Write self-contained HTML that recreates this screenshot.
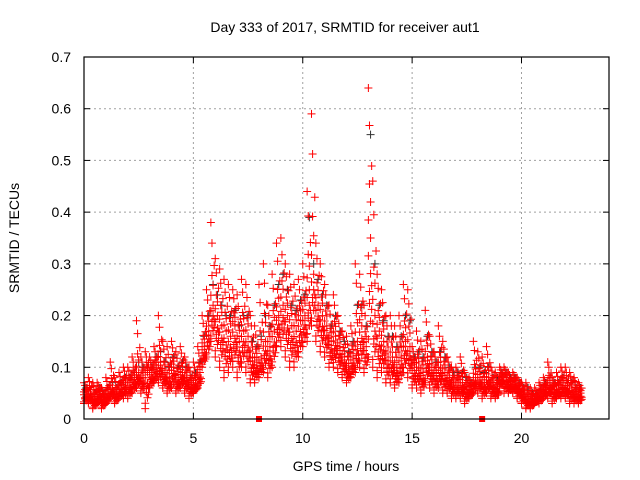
<!DOCTYPE html>
<html><head><meta charset="utf-8">
<style>
body{margin:0;background:#fff;}
svg{display:block;font-family:"Liberation Sans",sans-serif;}
</style></head>
<body>
<svg id="chart" width="640" height="480" viewBox="0 0 640 480" xmlns="http://www.w3.org/2000/svg">
<rect width="640" height="480" fill="#fff"/>
<g id="grid"></g>
<g id="points"></g>
<g id="axes"></g>
<text x="345" y="32" font-size="14" text-anchor="middle">Day 333 of 2017, SRMTID for receiver aut1</text>
<text x="346" y="471" font-size="14" text-anchor="middle">GPS time / hours</text>
<text transform="translate(19,238) rotate(-90)" font-size="14" text-anchor="middle">SRMTID / TECUs</text>
</svg>
<script>
const xTicks=[0,5,10,15,20];
const yTicks=[0,0.1,0.2,0.3,0.4,0.5,0.6,0.7];
const yTickLabels=["0","0.1","0.2","0.3","0.4","0.5","0.6","0.7"];
const stepHours=0.2;
const redHigh=[.07,.08,.07,.07,.06, .08,.11,.08,.09,.1, .1,.12,.19,.12,.13, .12,.14,.2,.15,.14, .15,.13,.14,.12,.1,
.11,.14,.2,.25,.38, .31,.29,.27,.26,.25, .24,.27,.26,.2,.18, .26,.3,.22,.28,.34, .35,.3,.28,.26,.27,
.3,.44,.59,.34,.3, .26,.22,.24,.2,.17, .16,.18,.3,.28,.22, .64,.46,.28,.25,.2, .2,.18,.2,.26,.25,
.14,.17,.15,.21,.16, .13,.18,.15,.12,.1, .1,.12,.09,.08,.15, .13,.12,.14,.1,.09, .1,.1,.09,.09,.08,
.07,.07,.06,.06,.07, .08,.11,.08,.09,.1, .1,.09,.08,.07];
const redMid=[.05,.05,.04,.05,.04, .05,.06,.05,.06,.07, .07,.08,.09,.08,.09, .09,.1,.11,.09,.08, .1,.08,.09,.08,.07,
.07,.09,.14,.17,.22, .2,.18,.17,.16,.18, .15,.17,.16,.12,.11, .12,.15,.14,.17,.2, .22,.2,.18,.17,.19,
.2,.25,.28,.22,.2, .18,.15,.16,.14,.12, .1,.12,.15,.18,.14, .35,.2,.17,.15,.12, .12,.1,.12,.15,.14,
.1,.1,.09,.12,.1, .09,.1,.09,.08,.07, .07,.07,.06,.06,.08, .08,.07,.08,.07,.06, .08,.08,.07,.07,.06,
.05,.04,.04,.04,.05, .06,.07,.06,.06,.07, .06,.06,.05,.05];
const redLow=[.03,.03,.02,.03,.02, .03,.04,.03,.04,.04, .04,.05,.06,.05,.02, .06,.07,.07,.06,.05, .06,.05,.06,.05,.04,
.05,.06,.1,.12,.15, .12,.1,.08,.09,.1, .08,.1,.09,.07,.07, .08,.09,.08,.1,.14, .14,.12,.1,.1,.12,
.14,.15,.18,.15,.13, .12,.1,.1,.09,.08, .07,.08,.09,.1,.09, .12,.1,.08,.09,.07, .07,.06,.07,.09,.08,
.06,.06,.05,.07,.06, .05,.06,.05,.05,.04, .04,.04,.03,.04,.05, .05,.04,.05,.04,.04, .06,.05,.05,.05,.04,
.03,.02,.02,.03,.03, .04,.04,.03,.04,.04, .04,.03,.03,.03];
const blackVals=[.06,.05,.05,.06,.05, .06,.07,.06,.07,.08, .08,.09,.11,.1,.1, .1,.12,.13,.11,.1, .12,.1,.11,.1,.08,
.09,.11,.16,.2,.26, .24,.22,.2,.2,.21, .18,.2,.2,.15,.14, .16,.2,.18,.22,.26, .28,.25,.22,.21,.23,
.24,.39,.3,.27,.24, .22,.18,.2,.17,.15, .13,.15,.22,.22,.18, .55,.3,.22,.19,.16, .16,.14,.16,.2,.19,
.12,.13,.12,.16,.13, .11,.13,.12,.1,.09, .09,.09,.08,.07,.1, .1,.09,.1,.08,.08, .09,.09,.08,.08,.07,
.06,.06,.05,.05,.06, .07,.08,.07,.07,.08, .07,.07,.06,.06];
const eventHours=[8.0,18.2];

const X0=84,X1=609,Y0=419,Y1=57,XMAX=24,YMAX=0.7;
const sx=v=>X0+(X1-X0)*v/XMAX;
const sy=v=>Y0-(Y0-Y1)*v/YMAX;
const NS="http://www.w3.org/2000/svg";
function mk(tag,attrs,parent){const e=document.createElementNS(NS,tag);for(const k in attrs)e.setAttribute(k,attrs[k]);parent.appendChild(e);return e;}
const grid=document.getElementById('grid'),pts=document.getElementById('points'),axes=document.getElementById('axes');
xTicks.forEach(t=>{
  if(t>0){const l=mk('line',{x1:sx(t),x2:sx(t),y1:Y0,y2:Y1,stroke:'#a0a0a0','stroke-dasharray':'2,3'},grid);
  
  }
  const tl=mk('text',{x:sx(t),y:Y0+24,'font-size':14,'text-anchor':'middle'},axes);tl.textContent=t;
  
  
  mk('line',{x1:sx(t),x2:sx(t),y1:Y0,y2:Y0-6,stroke:'#000'},axes);
  mk('line',{x1:sx(t),x2:sx(t),y1:Y1,y2:Y1+6,stroke:'#000'},axes);
});
yTicks.forEach((t,i)=>{
  if(t>0&&t<YMAX){const l=mk('line',{x1:X0,x2:X1,y1:sy(t),y2:sy(t),stroke:'#a0a0a0','stroke-dasharray':'2,3'},grid);
  
  }
  const tl=mk('text',{x:X0-13,y:sy(t)+5,'font-size':14,'text-anchor':'end'},axes);tl.textContent=yTickLabels[i];
  
  
  mk('line',{x1:X0,x2:X0+6,y1:sy(t),y2:sy(t),stroke:'#000'},axes);
  mk('line',{x1:X1,x2:X1-6,y1:sy(t),y2:sy(t),stroke:'#000'},axes);
});
const border=mk('rect',{x:X0,y:Y1,width:X1-X0,height:Y0-Y1,fill:'none',stroke:'#000','stroke-width':1.2},axes);


function plus(h,v,color){
  const x=sx(h),y=sy(v);
  const p=mk('path',{d:`M${x-4},${y}H${x+4}M${x},${y-4}V${y+4}`,stroke:color,'stroke-width':1,fill:'none'},pts);
  
  
}
blackVals.forEach((v,i)=>plus(i*stepHours+0.1,v,'#333'));
// dense red cloud: fill between bands of each sample, spread over the sample interval
redHigh.forEach((hi,i)=>{
  const lo=redLow[i],md=redMid[i];
  const t=i*stepHours;
  const offs=[0,0.05,0.1,0.15];
  offs.forEach((o,k)=>{
    const f=[0.15,0.45,0.3,0.6][k];
    plus(t+o,lo+(md-lo)*f,'#f00');
    plus(t+o,lo+(md-lo)*(1-f),'#f00');
    plus(t+o,md+(hi-md)*f*0.8,'#f00');
  });
  plus(t,lo,'#f00');plus(t+0.1,md,'#f00');plus(t,hi,'#f00');
  plus(t+0.05,md+(hi-md)*0.75,'#f00');
});
eventHours.forEach(h=>{
  const r=mk('rect',{x:sx(h)-3,y:Y0-3,width:6,height:6,fill:'#f00'},pts);
  
  
});
</script>
</body></html>
